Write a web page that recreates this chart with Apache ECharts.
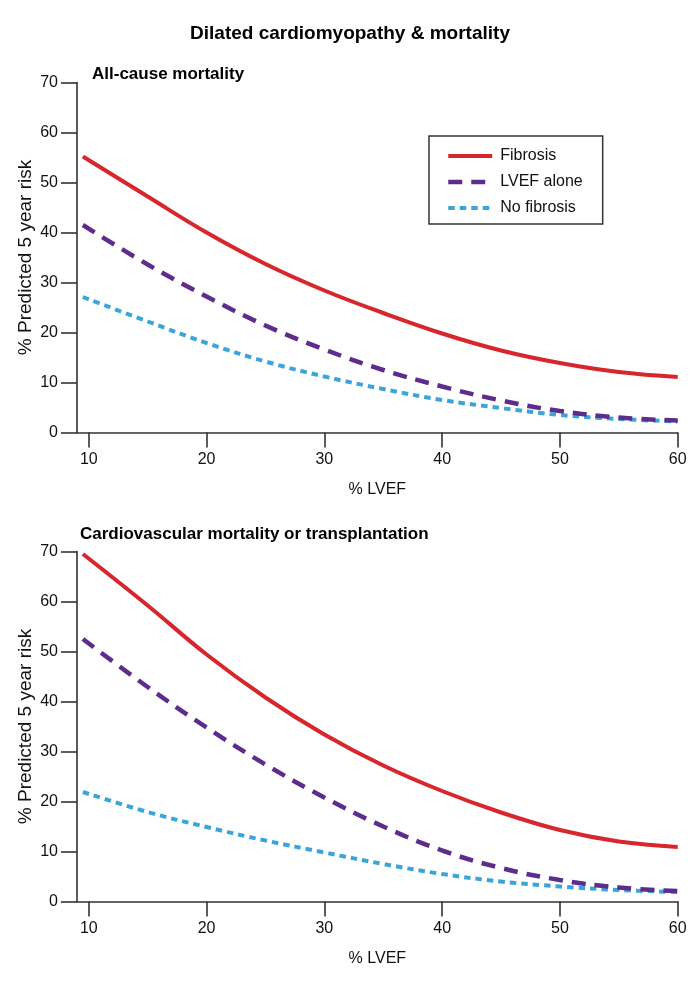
<!DOCTYPE html>
<html>
<head>
<meta charset="utf-8">
<title>Dilated cardiomyopathy & mortality</title>
<script src="https://cdn.jsdelivr.net/npm/echarts@6/dist/echarts.min.js"></script>
<style>
  html, body { margin: 0; padding: 0; background: #fff; }
  #chart { width: 700px; height: 992px; }
</style>
</head>
<body>
<div id="chart"></div>
<script>
// % LVEF sample points
var lvef = [9.5, 15, 20, 25, 30, 35, 40, 45, 50, 55, 60];
var xTicks = [10, 20, 30, 40, 50, 60];

// all-cause mortality (% predicted 5 year risk)
var fibrosisAll = [55.2, 47.2, 40.0, 33.7, 28.4, 23.9, 19.8, 16.4, 13.9, 12.1, 11.1];
var lvefAloneAll = [41.5, 33.6, 27.2, 21.4, 16.6, 12.5, 9.2, 6.4, 4.3, 3.0, 2.4];
var noFibrosisAll = [27.1, 22.2, 17.9, 14.2, 11.2, 8.7, 6.5, 4.9, 3.5, 2.7, 2.2];

// cardiovascular mortality or transplantation
var fibrosisCv = [69.5, 59.2, 49.4, 40.8, 33.4, 27.2, 22.1, 17.8, 14.3, 12.0, 10.9];
var lvefAloneCv = [52.5, 42.9, 34.8, 27.4, 20.8, 15.0, 10.2, 6.7, 4.3, 2.8, 2.1];
var noFibrosisCv = [21.9, 17.9, 14.9, 12.2, 9.8, 7.5, 5.5, 4.0, 3.0, 2.3, 1.9];

var names = ['Fibrosis', 'LVEF alone', 'No fibrosis'];
var colors = ['#d7262c', '#5e2c8c', '#3aa5d8'];
var dashes = ['solid', [14, 9], [6.5, 5]];
var widths = [4, 4.5, 4];

var font = '"Liberation Sans", Arial, sans-serif';
var axisColor = '#333';

var pairs = function (ys) {
  return lvef.map(function (x, i) { return [x, ys[i]]; });
};

var makeX = function (idx) {
  return {
    type: 'value',
    gridIndex: idx,
    min: 9,
    max: 60,
    name: '% LVEF',
    nameLocation: 'middle',
    nameGap: 49,
    nameMoveOverlap: false,
    nameTextStyle: { fontFamily: font, fontSize: 16, color: '#111' },
    splitLine: { show: false },
    axisLine: { onZero: false, lineStyle: { color: axisColor, width: 1.6 } },
    axisTick: { length: 15, customValues: xTicks, lineStyle: { color: axisColor, width: 1.6 } },
    axisLabel: { customValues: xTicks, margin: 19, fontFamily: font, fontSize: 16, color: '#111' }
  };
};

var makeY = function (idx) {
  return {
    type: 'value',
    gridIndex: idx,
    min: 0,
    max: 70,
    interval: 10,
    name: '% Predicted 5 year risk',
    nameLocation: 'middle',
    nameGap: 42,
    nameMoveOverlap: false,
    nameTextStyle: { fontFamily: font, fontSize: 19, color: '#111' },
    splitLine: { show: false },
    axisLine: { show: true, lineStyle: { color: axisColor, width: 1.6 } },
    axisTick: { show: true, length: 16, lineStyle: { color: axisColor, width: 1.6 } },
    axisLabel: { margin: 19, fontFamily: font, fontSize: 16, color: '#111' }
  };
};

var makeSeries = function (idx, sets) {
  return sets.map(function (ys, i) {
    return {
      name: names[i],
      type: 'line',
      xAxisIndex: idx,
      yAxisIndex: idx,
      data: pairs(ys),
      smooth: 0.4,
      symbol: 'none',
      lineStyle: { color: colors[i], width: widths[i], type: dashes[i], cap: 'butt' },
      itemStyle: { color: colors[i] },
      z: 10 - i
    };
  });
};

// legend entries: line only, no marker
var legendData = names.map(function (n, i) {
  return {
    name: n,
    itemStyle: { opacity: 0 },
    lineStyle: { color: colors[i], width: widths[i], type: dashes[i], cap: 'butt' }
  };
});

var chart = echarts.init(document.getElementById('chart'));

chart.setOption({
  backgroundColor: '#fff',
  animation: false,
  title: [
    {
      text: 'Dilated cardiomyopathy & mortality',
      left: 'center',
      top: 24,
      padding: 0,
      textStyle: { fontFamily: font, fontSize: 19, fontWeight: 'bold', color: '#000' }
    },
    {
      text: 'All-cause mortality',
      left: 92,
      top: 66,
      padding: 0,
      textStyle: { fontFamily: font, fontSize: 17, fontWeight: 'bold', color: '#000' }
    },
    {
      text: 'Cardiovascular mortality or transplantation',
      left: 80,
      top: 526,
      padding: 0,
      textStyle: { fontFamily: font, fontSize: 17, fontWeight: 'bold', color: '#000' }
    }
  ],
  legend: {
    data: legendData,
    orient: 'vertical',
    left: 429,
    top: 136,
    padding: [12, 20, 8, 17],
    itemWidth: 44,
    itemHeight: 14,
    itemGap: 10,
    borderColor: '#333',
    borderWidth: 1.5,
    selectedMode: false,
    itemStyle: { opacity: 0 },
    textStyle: { fontFamily: font, fontSize: 16, color: '#111', padding: [0, 0, 0, 3] }
  },
  grid: [
    { left: 77, top: 82.5, width: 600.7, height: 350 },
    { left: 77, top: 551.5, width: 600.7, height: 350 }
  ],
  xAxis: [makeX(0), makeX(1)],
  yAxis: [makeY(0), makeY(1)],
  series: makeSeries(0, [fibrosisAll, lvefAloneAll, noFibrosisAll])
    .concat(makeSeries(1, [fibrosisCv, lvefAloneCv, noFibrosisCv]))
});
</script>
</body>
</html>
